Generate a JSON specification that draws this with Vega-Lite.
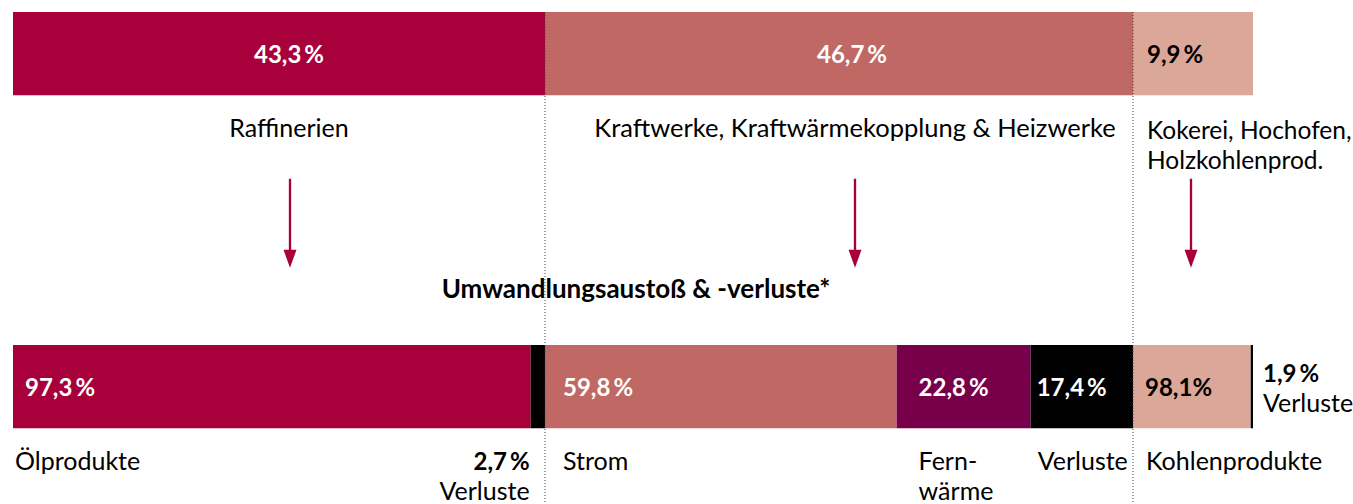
{
  "$schema": "https://vega.github.io/schema/vega-lite/v6.json",
  "background": "white",
  "padding": {"left": 13, "top": 11, "right": 0, "bottom": 0},
  "spacing": 0,
  "bounds": "flush",
  "config": {"view": {"stroke": null}, "text": {"font": "Lato"}, "concat": {"spacing": 0}},
  "datasets": {
    "einsatz": [
      {"gruppe": "Raffinerien", "anteil": 43.3, "label": "43,3\u2009%", "name": "Raffinerien"},
      {"gruppe": "Kraftwerke", "anteil": 46.7, "label": "46,7\u2009%", "name": "Kraftwerke, Kraftwärmekopplung & Heizwerke"},
      {"gruppe": "Kokerei", "anteil": 9.9, "label": "9,9\u2009%", "name": "Kokerei, Hochofen,\nHolzkohlenprod."}
    ],
    "ausstoss": [
      {"gruppe": "Raffinerien", "produkt": "Ölprodukte", "anteil": 97.3, "label": "97,3\u2009%", "bezeichnung": "Ölprodukte"},
      {"gruppe": "Raffinerien", "produkt": "Verluste", "anteil": 2.7, "label": "2,7\u2009%", "bezeichnung": "Verluste"},
      {"gruppe": "Kraftwerke", "produkt": "Strom", "anteil": 59.8, "label": "59,8\u2009%", "bezeichnung": "Strom"},
      {"gruppe": "Kraftwerke", "produkt": "Fernwärme", "anteil": 22.8, "label": "22,8\u2009%", "bezeichnung": "Fern-\nwärme"},
      {"gruppe": "Kraftwerke", "produkt": "Verluste", "anteil": 17.4, "label": "17,4\u2009%", "bezeichnung": "Verluste"},
      {"gruppe": "Kokerei", "produkt": "Kohlenprodukte", "anteil": 98.1, "label": "98,1%", "bezeichnung": "Kohlenprodukte"},
      {"gruppe": "Kokerei", "produkt": "Verluste", "anteil": 1.9, "label": "1,9\u2009%", "bezeichnung": "Verluste"}
    ]
  },
  "hconcat": [
    {
      "width": 532,
      "height": 493,
      "layer": [
        {
          "data": {"name": "einsatz"},
          "transform": [
            {"filter": "datum.gruppe === 'Raffinerien'"},
            {"stack": "anteil", "groupby": [], "offset": "normalize", "as": ["x0", "x1"]}
          ],
          "layer": [
            {
              "mark": {"type": "bar"},
              "encoding": {
                "x": {"field": "x0", "type": "quantitative", "scale": {"domain": [0, 1]}, "axis": null},
                "x2": {"field": "x1"},
                "y": {"datum": "Einsatz", "type": "nominal", "axis": null,
                      "scale": {"domain": ["Einsatz", "Bezeichnung", "Pfeil", "Titel", "Ausstoß", "Beschriftung"], "range": [0, 499.5], "paddingInner": 0, "paddingOuter": 0}},
                "color": {"field": "gruppe", "type": "nominal", "legend": null,
                          "scale": {"domain": ["Raffinerien", "Kraftwerke", "Kokerei", "Ölprodukte", "Strom", "Fernwärme", "Kohlenprodukte", "Verluste"],
                                    "range": ["#A8003B", "#C06964", "#DAA799", "#A8003B", "#C06964", "#78004B", "#DAA799", "#000000"]}}
              }
            },
            {
              "mark": {"type": "text", "align": "center", "baseline": "alphabetic", "dx": 10, "dy": 9, "fontSize": 24, "fontWeight": "bold", "color": "#ffffff"},
              "encoding": {"x": {"datum": 0.5, "type": "quantitative"}, "y": {"datum": "Einsatz", "type": "nominal"}, "text": {"field": "label"}}
            },
            {
              "mark": {"type": "text", "align": "center", "baseline": "alphabetic", "dx": 10, "dy": 0, "fontSize": 25, "color": "#000000", "lineBreak": "\n", "lineHeight": 30.5},
              "encoding": {"x": {"datum": 0.5, "type": "quantitative"}, "y": {"datum": "Bezeichnung", "type": "nominal"}, "text": {"field": "name"}}
            },
            {
              "mark": {"type": "point", "shape": "M-0.026,-1L0.026,-1L0.026,0.6L0.146,0.6L0,1L-0.146,0.6L-0.026,0.6Z", "size": 7921, "filled": true, "opacity": 1, "color": "#A8003B", "strokeWidth": 0, "xOffset": 11, "yOffset": 3},
              "encoding": {"x": {"datum": 0.5, "type": "quantitative"}, "y": {"datum": "Pfeil", "type": "nominal"}}
            }
          ]
        },
        {
          "data": {"name": "ausstoss"},
          "transform": [
            {"filter": "datum.gruppe === 'Raffinerien'"},
            {"stack": "anteil", "groupby": [], "offset": "normalize", "sort": [{"field": "anteil", "order": "descending"}], "as": ["x0", "x1"]}
          ],
          "layer": [
            {
              "mark": {"type": "bar"},
              "encoding": {
                "x": {"field": "x0", "type": "quantitative", "scale": {"domain": [0, 1]}, "axis": null},
                "x2": {"field": "x1"},
                "y": {"datum": "Ausstoß", "type": "nominal", "axis": null},
                "color": {"field": "produkt", "type": "nominal", "legend": null}
              }
            },
            {
              "transform": [{"filter": "datum.produkt === 'Ölprodukte'"}],
              "mark": {"type": "text", "align": "left", "baseline": "alphabetic", "dx": 12, "dy": 9, "fontSize": 24, "fontWeight": "bold", "color": "#ffffff"},
              "encoding": {"x": {"field": "x0", "type": "quantitative"}, "y": {"datum": "Ausstoß", "type": "nominal"}, "text": {"field": "label"}}
            },
            {
              "transform": [{"filter": "datum.produkt === 'Ölprodukte'"}],
              "mark": {"type": "text", "align": "left", "baseline": "alphabetic", "dx": 2, "dy": 0, "fontSize": 25, "color": "#000000", "lineBreak": "\n", "lineHeight": 30.5},
              "encoding": {"x": {"field": "x0", "type": "quantitative"}, "y": {"datum": "Beschriftung", "type": "nominal"}, "text": {"field": "bezeichnung"}}
            },
            {
              "transform": [{"filter": "datum.produkt === 'Verluste'"}],
              "mark": {"type": "text", "align": "right", "baseline": "alphabetic", "dx": -1, "dy": 0, "fontSize": 24, "fontWeight": "bold", "color": "#000000"},
              "encoding": {"x": {"field": "x0", "type": "quantitative"}, "y": {"datum": "Beschriftung", "type": "nominal"}, "text": {"field": "label"}}
            },
            {
              "transform": [{"filter": "datum.produkt === 'Verluste'"}],
              "mark": {"type": "text", "align": "right", "baseline": "alphabetic", "dx": -1, "dy": 30.5, "fontSize": 25, "color": "#000000"},
              "encoding": {"x": {"field": "x0", "type": "quantitative"}, "y": {"datum": "Beschriftung", "type": "nominal"}, "text": {"field": "bezeichnung"}}
            }
          ]
        }
      ]
    },
    {
      "width": 588,
      "height": 493,
      "layer": [
        {
          "data": {"name": "einsatz"},
          "transform": [
            {"filter": "datum.gruppe === 'Kraftwerke'"},
            {"stack": "anteil", "groupby": [], "offset": "normalize", "as": ["x0", "x1"]}
          ],
          "layer": [
            {
              "mark": {"type": "bar"},
              "encoding": {
                "x": {"field": "x0", "type": "quantitative", "scale": {"domain": [0, 1]}, "axis": null},
                "x2": {"field": "x1"},
                "y": {"datum": "Einsatz", "type": "nominal", "axis": null,
                      "scale": {"domain": ["Einsatz", "Bezeichnung", "Pfeil", "Titel", "Ausstoß", "Beschriftung"], "range": [0, 499.5], "paddingInner": 0, "paddingOuter": 0}},
                "color": {"field": "gruppe", "type": "nominal", "legend": null,
                          "scale": {"domain": ["Raffinerien", "Kraftwerke", "Kokerei", "Ölprodukte", "Strom", "Fernwärme", "Kohlenprodukte", "Verluste"],
                                    "range": ["#A8003B", "#C06964", "#DAA799", "#A8003B", "#C06964", "#78004B", "#DAA799", "#000000"]}}
              }
            },
            {
              "mark": {"type": "text", "align": "center", "baseline": "alphabetic", "dx": 13, "dy": 9, "fontSize": 24, "fontWeight": "bold", "color": "#ffffff"},
              "encoding": {"x": {"datum": 0.5, "type": "quantitative"}, "y": {"datum": "Einsatz", "type": "nominal"}, "text": {"field": "label"}}
            },
            {
              "mark": {"type": "text", "align": "center", "baseline": "alphabetic", "dx": 16, "dy": 0, "fontSize": 25.5, "color": "#000000", "lineBreak": "\n", "lineHeight": 30.5},
              "encoding": {"x": {"datum": 0.5, "type": "quantitative"}, "y": {"datum": "Bezeichnung", "type": "nominal"}, "text": {"field": "name"}}
            },
            {
              "mark": {"type": "point", "shape": "M-0.026,-1L0.026,-1L0.026,0.6L0.146,0.6L0,1L-0.146,0.6L-0.026,0.6Z", "size": 7921, "filled": true, "opacity": 1, "color": "#A8003B", "strokeWidth": 0, "xOffset": 16, "yOffset": 3},
              "encoding": {"x": {"datum": 0.5, "type": "quantitative"}, "y": {"datum": "Pfeil", "type": "nominal"}}
            },
            {
              "mark": {"type": "text", "align": "center", "baseline": "alphabetic", "dx": 91, "dy": -5, "fontSize": 26, "fontWeight": "bold", "color": "#000000", "text": "Umwandlungsaustoß & -verluste*"},
              "encoding": {"x": {"datum": 0, "type": "quantitative"}, "y": {"datum": "Titel", "type": "nominal"}}
            }
          ]
        },
        {
          "data": {"name": "ausstoss"},
          "transform": [
            {"filter": "datum.gruppe === 'Kraftwerke'"},
            {"stack": "anteil", "groupby": [], "offset": "normalize", "sort": [{"field": "anteil", "order": "descending"}], "as": ["x0", "x1"]}
          ],
          "layer": [
            {
              "mark": {"type": "bar"},
              "encoding": {
                "x": {"field": "x0", "type": "quantitative", "scale": {"domain": [0, 1]}, "axis": null},
                "x2": {"field": "x1"},
                "y": {"datum": "Ausstoß", "type": "nominal", "axis": null},
                "color": {"field": "produkt", "type": "nominal", "legend": null}
              }
            },
            {
              "transform": [{"filter": "datum.produkt === 'Strom'"}],
              "mark": {"type": "text", "align": "left", "baseline": "alphabetic", "dx": 18, "dy": 9, "fontSize": 24, "fontWeight": "bold", "color": "#ffffff"},
              "encoding": {"x": {"field": "x0", "type": "quantitative"}, "y": {"datum": "Ausstoß", "type": "nominal"}, "text": {"field": "label"}}
            },
            {
              "transform": [{"filter": "datum.produkt === 'Strom'"}],
              "mark": {"type": "text", "align": "left", "baseline": "alphabetic", "dx": 18, "dy": 0, "fontSize": 25, "color": "#000000", "lineBreak": "\n", "lineHeight": 30.5},
              "encoding": {"x": {"field": "x0", "type": "quantitative"}, "y": {"datum": "Beschriftung", "type": "nominal"}, "text": {"field": "bezeichnung"}}
            },
            {
              "transform": [{"filter": "datum.produkt === 'Fernwärme'"}],
              "mark": {"type": "text", "align": "left", "baseline": "alphabetic", "dx": 22, "dy": 9, "fontSize": 24, "fontWeight": "bold", "color": "#ffffff"},
              "encoding": {"x": {"field": "x0", "type": "quantitative"}, "y": {"datum": "Ausstoß", "type": "nominal"}, "text": {"field": "label"}}
            },
            {
              "transform": [{"filter": "datum.produkt === 'Fernwärme'"}],
              "mark": {"type": "text", "align": "left", "baseline": "alphabetic", "dx": 22, "dy": 0, "fontSize": 25, "color": "#000000", "lineBreak": "\n", "lineHeight": 30.5},
              "encoding": {"x": {"field": "x0", "type": "quantitative"}, "y": {"datum": "Beschriftung", "type": "nominal"}, "text": {"field": "bezeichnung"}}
            },
            {
              "transform": [{"filter": "datum.produkt === 'Verluste'"}],
              "mark": {"type": "text", "align": "left", "baseline": "alphabetic", "dx": 6, "dy": 9, "fontSize": 24, "fontWeight": "bold", "color": "#ffffff"},
              "encoding": {"x": {"field": "x0", "type": "quantitative"}, "y": {"datum": "Ausstoß", "type": "nominal"}, "text": {"field": "label"}}
            },
            {
              "transform": [{"filter": "datum.produkt === 'Verluste'"}],
              "mark": {"type": "text", "align": "left", "baseline": "alphabetic", "dx": 7, "dy": 0, "fontSize": 25, "color": "#000000", "lineBreak": "\n", "lineHeight": 30.5},
              "encoding": {"x": {"field": "x0", "type": "quantitative"}, "y": {"datum": "Beschriftung", "type": "nominal"}, "text": {"field": "bezeichnung"}}
            }
          ]
        },
        {
          "data": {"name": "einsatz"},
          "transform": [{"filter": "datum.gruppe === 'Kraftwerke'"}],
          "mark": {"type": "rule", "color": "#444444", "strokeWidth": 1, "strokeDash": [1, 2]},
          "encoding": {"x": {"datum": 0, "type": "quantitative"}}
        }
      ]
    },
    {
      "width": 120,
      "height": 493,
      "layer": [
        {
          "data": {"name": "einsatz"},
          "transform": [
            {"filter": "datum.gruppe === 'Kokerei'"},
            {"stack": "anteil", "groupby": [], "offset": "normalize", "as": ["x0", "x1"]}
          ],
          "layer": [
            {
              "mark": {"type": "bar"},
              "encoding": {
                "x": {"field": "x0", "type": "quantitative", "scale": {"domain": [0, 1]}, "axis": null},
                "x2": {"field": "x1"},
                "y": {"datum": "Einsatz", "type": "nominal", "axis": null,
                      "scale": {"domain": ["Einsatz", "Bezeichnung", "Pfeil", "Titel", "Ausstoß", "Beschriftung"], "range": [0, 499.5], "paddingInner": 0, "paddingOuter": 0}},
                "color": {"field": "gruppe", "type": "nominal", "legend": null,
                          "scale": {"domain": ["Raffinerien", "Kraftwerke", "Kokerei", "Ölprodukte", "Strom", "Fernwärme", "Kohlenprodukte", "Verluste"],
                                    "range": ["#A8003B", "#C06964", "#DAA799", "#A8003B", "#C06964", "#78004B", "#DAA799", "#000000"]}}
              }
            },
            {
              "mark": {"type": "text", "align": "left", "baseline": "alphabetic", "dx": 14, "dy": 9, "fontSize": 24, "fontWeight": "bold", "color": "#000000"},
              "encoding": {"x": {"field": "x0", "type": "quantitative"}, "y": {"datum": "Einsatz", "type": "nominal"}, "text": {"field": "label"}}
            },
            {
              "mark": {"type": "text", "align": "left", "baseline": "alphabetic", "dx": 14, "dy": 2, "fontSize": 24.5, "color": "#000000", "lineBreak": "\n", "lineHeight": 30.5},
              "encoding": {"x": {"field": "x0", "type": "quantitative"}, "y": {"datum": "Bezeichnung", "type": "nominal"}, "text": {"field": "name"}}
            },
            {
              "mark": {"type": "point", "shape": "M-0.026,-1L0.026,-1L0.026,0.6L0.146,0.6L0,1L-0.146,0.6L-0.026,0.6Z", "size": 7921, "filled": true, "opacity": 1, "color": "#A8003B", "strokeWidth": 0, "xOffset": -2, "yOffset": 3},
              "encoding": {"x": {"datum": 0.5, "type": "quantitative"}, "y": {"datum": "Pfeil", "type": "nominal"}}
            }
          ]
        },
        {
          "data": {"name": "ausstoss"},
          "transform": [
            {"filter": "datum.gruppe === 'Kokerei'"},
            {"stack": "anteil", "groupby": [], "offset": "normalize", "sort": [{"field": "anteil", "order": "descending"}], "as": ["x0", "x1"]}
          ],
          "layer": [
            {
              "mark": {"type": "bar"},
              "encoding": {
                "x": {"field": "x0", "type": "quantitative", "scale": {"domain": [0, 1]}, "axis": null},
                "x2": {"field": "x1"},
                "y": {"datum": "Ausstoß", "type": "nominal", "axis": null},
                "color": {"field": "produkt", "type": "nominal", "legend": null}
              }
            },
            {
              "transform": [{"filter": "datum.produkt === 'Kohlenprodukte'"}],
              "mark": {"type": "text", "align": "left", "baseline": "alphabetic", "dx": 12, "dy": 9, "fontSize": 24, "fontWeight": "bold", "color": "#000000"},
              "encoding": {"x": {"field": "x0", "type": "quantitative"}, "y": {"datum": "Ausstoß", "type": "nominal"}, "text": {"field": "label"}}
            },
            {
              "transform": [{"filter": "datum.produkt === 'Kohlenprodukte'"}],
              "mark": {"type": "text", "align": "left", "baseline": "alphabetic", "dx": 13, "dy": 0, "fontSize": 25, "color": "#000000", "lineBreak": "\n", "lineHeight": 30.5},
              "encoding": {"x": {"field": "x0", "type": "quantitative"}, "y": {"datum": "Beschriftung", "type": "nominal"}, "text": {"field": "bezeichnung"}}
            },
            {
              "transform": [{"filter": "datum.produkt === 'Verluste'"}],
              "mark": {"type": "text", "align": "left", "baseline": "alphabetic", "dx": 10, "dy": -5, "fontSize": 24, "fontWeight": "bold", "color": "#000000"},
              "encoding": {"x": {"field": "x1", "type": "quantitative"}, "y": {"datum": "Ausstoß", "type": "nominal"}, "text": {"field": "label"}}
            },
            {
              "transform": [{"filter": "datum.produkt === 'Verluste'"}],
              "mark": {"type": "text", "align": "left", "baseline": "alphabetic", "dx": 10, "dy": 25, "fontSize": 25, "color": "#000000"},
              "encoding": {"x": {"field": "x1", "type": "quantitative"}, "y": {"datum": "Ausstoß", "type": "nominal"}, "text": {"field": "bezeichnung"}}
            }
          ]
        },
        {
          "data": {"name": "einsatz"},
          "transform": [{"filter": "datum.gruppe === 'Kokerei'"}],
          "mark": {"type": "rule", "color": "#444444", "strokeWidth": 1, "strokeDash": [1, 2]},
          "encoding": {"x": {"datum": 0, "type": "quantitative"}}
        }
      ]
    }
  ]
}
